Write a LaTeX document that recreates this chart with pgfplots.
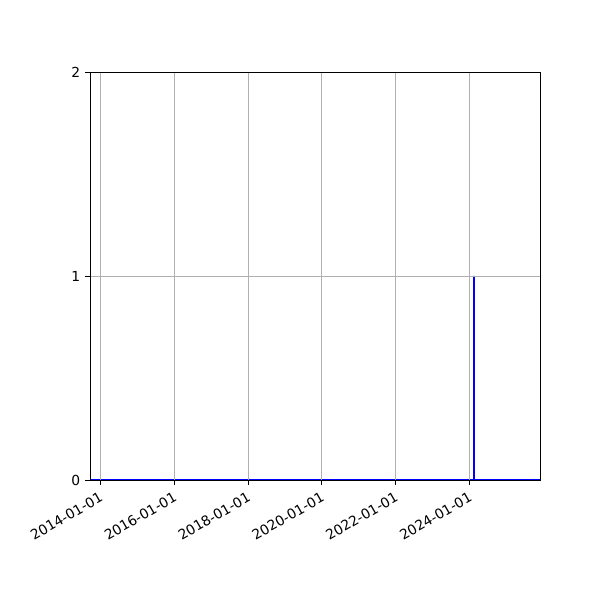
\documentclass[border=0pt]{standalone}
\usepackage{fontspec}
\setmainfont{DejaVu Sans}
\usepackage{pgfplots}
\pgfplotsset{compat=1.18}
\begin{document}
\begin{tikzpicture}[x=1in,y=1in]
% page frame: 600 x 600 px at 100 px per inch
\path (-0.9,-1.2) rectangle (5.1,4.8);
\begin{axis}[
    at={(0,0)}, anchor=south west,
    scale only axis,
    width=4.5in, height=4.08in,
    xmin=2013.716, xmax=2025.908,
    ymin=0, ymax=2,
    xtick={2014,2016,2018,2020,2022,2024},
    xticklabels={2014-01-01,2016-01-01,2018-01-01,2020-01-01,2022-01-01,2024-01-01},
    ytick={0,1,2},
    yticklabels={0,1,2},
    x tick label style={rotate=30, anchor=north east, font=\fontsize{10}{12}\selectfont},
    y tick label style={font=\fontsize{10}{12}\selectfont},
    /pgf/number format/assume math mode=true,
    tick align=outside,
    major tick length=3.5pt,
    tick style={black, line width=0.7pt},
    xtick pos=bottom, ytick pos=left,
    axis line style={line width=0.7pt},
    axis on top,
    grid=major,
    grid style={color=black!31, line width=0.7pt},
]
\addplot[blue, line width=1.8pt, line join=bevel] coordinates {
    (2013.716,0) (2024.125,0) (2024.125,1) (2024.125,0) (2025.908,0)
};
\end{axis}
\end{tikzpicture}
\end{document}
